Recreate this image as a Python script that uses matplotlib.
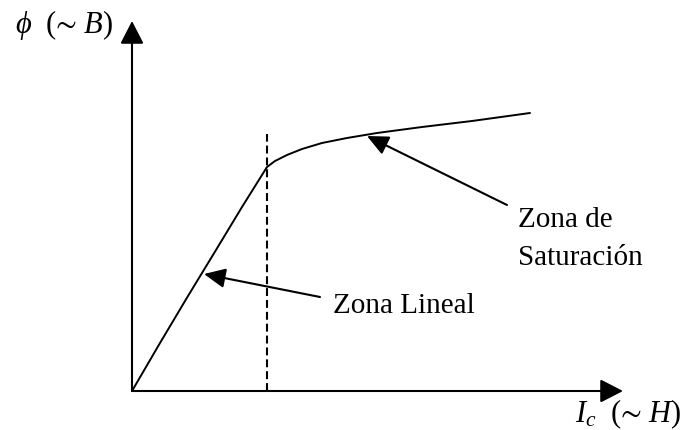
import matplotlib.pyplot as plt

plt.rcParams['mathtext.fontset'] = 'custom'
plt.rcParams['mathtext.rm'] = 'Liberation Serif'
plt.rcParams['mathtext.it'] = 'Liberation Serif:italic'
plt.rcParams['font.family'] = 'Liberation Serif'

# magnetization curve (current vs flux, arbitrary units)
current = [0, 28, 56, 84, 110, 135, 143, 155, 170, 190, 215, 245, 290, 340, 398]
flux = [0, 48, 95, 141, 184, 224, 230, 236, 242, 248, 253, 258, 264, 270, 278]

# end of linear zone
knee_current = 135
knee_flux = 257

# axis extents
x_end = 491
y_end = 370

# labels: (lines, text position, arrow tail, arrow tip)
zone_labels = [
    (['Zona Lineal'], (201, 78), (188, 94), (72, 117)),
    (['Zona de', 'Saturación'], (386, 164), (375, 186), (235, 255)),
]

fig = plt.figure(figsize=(6.86, 4.30), dpi=100)
ax = fig.add_axes([0, 0, 1, 1])
ax.set_xlim(-132, 554)
ax.set_ylim(-39, 391)
ax.axis('off')

axis_arrow = dict(arrowstyle='-|>,head_length=0.7,head_width=0.36', mutation_scale=20,
                  lw=1.5, color='k', shrinkA=0, shrinkB=0)
ax.annotate('', xy=(x_end, 0), xytext=(0, 0), arrowprops=axis_arrow)
ax.annotate('', xy=(0, y_end), xytext=(0, 0), arrowprops=axis_arrow)

ax.plot(current, flux, color='k', lw=1.4, solid_capstyle='round', solid_joinstyle='round')
ax.plot([knee_current, knee_current], [0, knee_flux], color='k', lw=1.5,
        linestyle=(0, (3.8, 1.9)))

note_arrow = dict(arrowstyle='-|>,head_length=0.65,head_width=0.3', mutation_scale=20,
                  lw=1.5, color='k', shrinkA=0, shrinkB=0)
for lines, pos, tail, tip in zone_labels:
    ax.annotate('', xy=tip, xytext=tail, arrowprops=note_arrow)
    for i, line in enumerate(lines):
        ax.text(pos[0], pos[1] - 38 * i, line, fontsize=21, ha='left', va='baseline')

ax.text(-117, 358, '$\\phi\\ \\ (\u223c\\ B)$', fontsize=22, ha='left', va='baseline')
ax.text(443, -31, '$I_c\\ \\ (\u223c\\ H)$', fontsize=22, ha='left', va='baseline')

fig.savefig('out.png', dpi=100)
